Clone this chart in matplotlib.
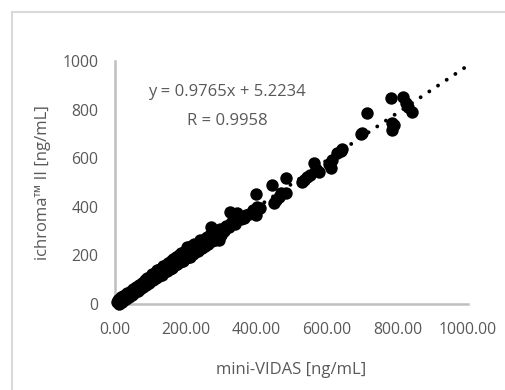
import numpy as np
import matplotlib.pyplot as plt
from matplotlib.lines import Line2D

# mini-VIDAS vs ichroma II
vidas = [5, 8, 10, 12, 15, 18, 20, 22, 25, 28, 32, 35, 40, 44, 48, 52, 55, 60, 65, 68,
         72, 76, 80, 85, 88, 92, 96, 100,
         104, 108, 112, 116, 120, 125, 128, 132, 136, 140, 144, 148, 150, 155, 158, 162,
         165, 170, 172, 176, 180, 184, 188, 192, 196, 200, 204, 206,
         210, 213, 216, 220, 224, 228, 232, 236, 240, 242, 246, 250, 255, 258, 260, 264,
         268, 272, 275, 280, 284, 288, 292, 294, 298, 300,
         305, 310, 315, 322, 325, 328, 335, 340, 346, 350, 358, 365, 372, 380, 390, 398,
         398, 403, 410, 445, 450, 456, 464, 470, 483, 483,
         530, 536, 545, 552, 563, 570, 578, 605, 611, 616, 630, 640, 644, 696, 700,
         715, 786, 786, 790, 781, 817, 824, 830, 840]
ichroma = [8, 18, 2, 20, 5, 28, 10, 32, 15, 38, 22, 45, 30, 55, 38, 62, 45, 70, 55, 80,
           62, 88, 70, 98, 78, 105, 85, 112,
           122, 100, 128, 108, 138, 115, 142, 120, 155, 130, 162, 135, 170, 145, 178, 150,
           185, 160, 192, 165, 200, 172, 208, 178, 215, 188, 236, 192,
           228, 195, 238, 205, 245, 212, 236, 218, 255, 263, 230, 262, 238, 272, 277, 245,
           285, 318, 260, 292, 265, 300, 270, 263, 310, 282,
           310, 300, 320, 318, 380, 335, 345, 330, 373, 360, 350, 353, 365, 372, 385, 453,
           366, 400, 395, 490, 417, 430, 442, 455, 455, 520,
           503, 510, 524, 530, 579, 555, 545, 575, 558, 593, 620, 630, 636, 700, 705,
           785, 743, 716, 735, 846, 853, 826, 810, 791]

slope = 0.9765
intercept = 5.2234
eq_text = "y = 0.9765x + 5.2234"
r_text = "R = 0.9958"
x_ticks = [0, 200, 400, 600, 800, 1000]
y_ticks = [0, 200, 400, 600, 800, 1000]

plt.rcParams['font.family'] = ['Open Sans', 'DejaVu Sans']
grey = '#595959'

fig = plt.figure(figsize=(5.06, 3.9), dpi=100)
ax = fig.add_axes([0.2273, 0.2205, 0.6976, 0.6231])

ax.scatter(vidas, ichroma, s=80, color='black', zorder=3, clip_on=False, linewidths=0)

tx = np.array([min(vidas), 1000])
ax.plot(tx, slope * tx + intercept, color='black', lw=2.8,
        linestyle=(0, (0.01, 2.68)), dash_capstyle='round', zorder=4)

ax.set_xlim(0, 1000)
ax.set_ylim(0, 1000)
ax.set_xticks(x_ticks)
ax.set_xticklabels([f"{v:.2f}" for v in x_ticks])
ax.set_yticks(y_ticks)
ax.tick_params(length=0, labelsize=11.3, colors=grey)
ax.tick_params(axis='x', pad=13)
ax.tick_params(axis='y', pad=12)
for s in ['top', 'right']:
    ax.spines[s].set_visible(False)
for s in ['left', 'bottom']:
    ax.spines[s].set_color('#bfbfbf')
    ax.spines[s].set_linewidth(1.8)

ax.set_xlabel("mini-VIDAS [ng/mL]", fontsize=12, color=grey, labelpad=17)
ax.set_ylabel("ichroma\u2122 II [ng/mL]", fontsize=12, color=grey, labelpad=8)

ax.text(318, 872, eq_text, fontsize=12, color=grey, ha='center', va='center')
ax.text(318, 753, r_text, fontsize=12, color=grey, ha='center', va='center')

# outer chart frame (cropped on right and bottom)
fig.add_artist(Line2D([12 / 506, 12 / 506], [1 - 12 / 390, 0], color='#d9d9d9', lw=1.5))
fig.add_artist(Line2D([12 / 506, 1], [1 - 12 / 390, 1 - 12 / 390], color='#d9d9d9', lw=1.5))

fig.savefig('out.png', dpi=100)
